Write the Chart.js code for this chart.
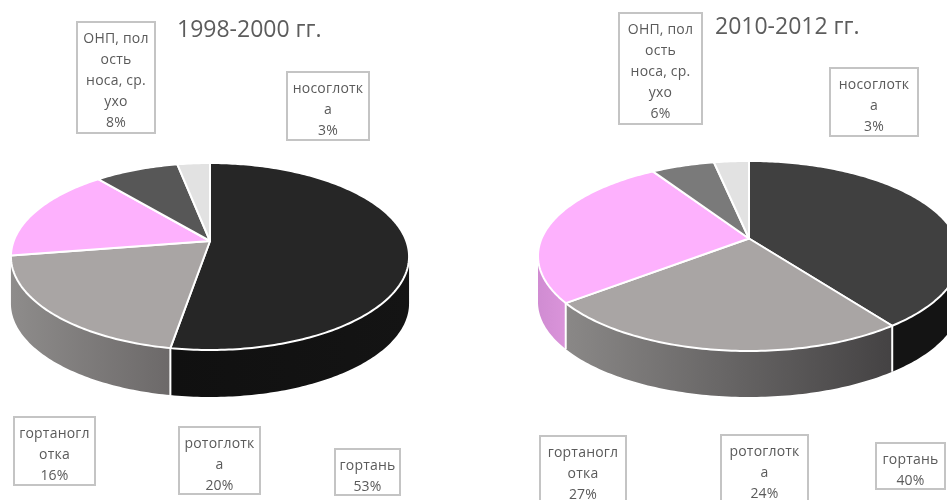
<!DOCTYPE html>
<html>
<head>
<meta charset="utf-8">
<script src="https://cdn.jsdelivr.net/npm/chart.js@4"></script>
<style>
  html, body { margin: 0; padding: 0; background: #fff; }
  body { position: relative; width: 947px; height: 500px; overflow: hidden; font-family: "Open Sans", "Noto Sans", sans-serif; }
  .pie { position: absolute; top: 0; }
  .pie, .box, .title { filter: blur(0.5px); }
  .box { position: absolute; box-sizing: border-box; border: 2px solid #c4c4c4; background: #fff; color: #5a5a5a;
         font-size: 14px; line-height: 21px; text-align: center; padding-top: 4px; letter-spacing: 0.2px; white-space: nowrap; }
  .title { position: absolute; color: #5c5c5c; font-size: 23px; line-height: 30px; white-space: nowrap; }
</style>
</head>
<body>
<div class="pie" style="left:0;width:420px;height:482px"><canvas id="pieOld"></canvas></div>
<div class="pie" style="left:519px;width:460px;height:477px"><canvas id="pieNew"></canvas></div>
<script>
// данные (доли прочитаны по секторам, в подписях округляются)
const categories = ['гортань', 'ротоглотка', 'гортаноглотка', 'ОНП, полость носа, ср. ухо', 'носоглотка'];
const categoryLines = [['гортань'], ['ротоглотк', 'а'], ['гортаногл', 'отка'], ['ОНП, пол', 'ость', 'носа, ср.', 'ухо'], ['носоглотк', 'а']];
const valuesOld = [52.7, 19.8, 16.4, 8, 3.1];
const valuesNew = [40, 24.3, 26.7, 5.8, 3.2];
const titleOld = '1998-2000 гг.';
const titleNew = '2010-2012 гг.';

// цвета: верх и стенка (слева, справа)
const topOld = ['#262626', '#a9a5a4', '#fdb1fd', '#575757', '#e2e2e2'];
const topNew = ['#404040', '#a9a5a4', '#fdb1fd', '#7a7a7a', '#e2e2e2'];
const wallOld = [['#101010', '#141414'], ['#8e8c8b', '#6c6969'], ['#8e8c8b', '#8e8c8b'], ['#333', '#333'], ['#999', '#999']];
const wallNew = [['#141414', '#141414'], ['#8a8887', '#444243'], ['#d08cd2', '#da94da'], ['#444', '#444'], ['#999', '#999']];

// положение подписей: left, top, width, height
const boxesOld = [[334, 448, 67, 48], [178, 426, 83, 69], [13, 416, 83, 70], [76, 21, 80, 113], [286, 71, 84, 70]];
const boxesNew = [[875, 442, 71, 48], [720, 434, 89, 70], [539, 435, 88, 70], [618, 12, 85, 113], [829, 67, 90, 70]];

// псевдо-3D: окружность пирога переводится в перспективу
function projector(arc, p) {
  return function(angle, drop) {
    const u = Math.cos(angle), v = Math.sin(angle);
    const d = 1 - p.k * v;
    return [arc.x + p.b * u / d, arc.y + p.a * v / d + (drop || 0)];
  };
}

function tracePath(ctx, pts) {
  pts.forEach(pt => ctx.lineTo(pt[0], pt[1]));
}

function sweep(project, start, end, drop) {
  const n = Math.max(2, Math.ceil((end - start) * 60));
  const pts = [];
  for (let i = 0; i <= n; i++) pts.push(project(start + (end - start) * i / n, drop));
  return pts;
}

const pie3d = {
  id: 'pie3d',
  beforeDatasetDraw(chart, args, opts) {
    const ctx = chart.ctx;
    const arcs = chart.getDatasetMeta(args.index).data;
    const edge = Math.asin(opts.k);

    // стенки
    arcs.forEach((arc, i) => {
      const project = projector(arc, opts);
      const start = Math.max(arc.startAngle, edge);
      const end = Math.min(arc.endAngle, Math.PI - edge);
      if (end <= start) return;
      const rim = sweep(project, start, end, 0);
      const low = sweep(project, start, end, opts.depth).reverse();
      const xs = rim.map(pt => pt[0]);
      const grad = ctx.createLinearGradient(Math.min(...xs), 0, Math.max(...xs), 0);
      grad.addColorStop(0, opts.walls[i][0]);
      grad.addColorStop(1, opts.walls[i][1]);
      ctx.beginPath();
      tracePath(ctx, rim.concat(low));
      ctx.closePath();
      ctx.fillStyle = grad;
      ctx.fill();
    });

    // белая грань между секторами
    arcs.forEach(arc => {
      if (arc.endAngle < edge || arc.endAngle > Math.PI - edge) return;
      const project = projector(arc, opts);
      const from = project(arc.endAngle, 0), to = project(arc.endAngle, opts.depth);
      ctx.beginPath();
      ctx.moveTo(from[0], from[1]);
      ctx.lineTo(to[0], to[1]);
      ctx.strokeStyle = '#fff';
      ctx.lineWidth = 2;
      ctx.stroke();
    });

    // верхняя грань
    arcs.forEach(arc => {
      const project = projector(arc, opts);
      ctx.beginPath();
      ctx.moveTo(arc.x, arc.y);
      tracePath(ctx, sweep(project, arc.startAngle, arc.endAngle, 0));
      ctx.closePath();
      ctx.fillStyle = arc.options.backgroundColor;
      ctx.fill();
      ctx.strokeStyle = '#fff';
      ctx.lineWidth = 2;
      ctx.lineJoin = 'round';
      ctx.stroke();
    });
    return false;
  }
};

function drawPie(canvasId, values, colors, walls, shape) {
  new Chart(document.getElementById(canvasId), {
    type: 'pie',
    data: {
      labels: categories,
      datasets: [{ data: values, backgroundColor: colors, borderWidth: 0 }]
    },
    options: {
      responsive: true,
      maintainAspectRatio: false,
      animation: false,
      events: [],
      plugins: {
        legend: { display: false },
        tooltip: { enabled: false },
        pie3d: Object.assign({ walls: walls }, shape)
      }
    },
    plugins: [pie3d]
  });
}

function addLabels(values, boxes) {
  values.forEach((value, i) => {
    const box = document.createElement('div');
    box.className = 'box';
    box.style.left = boxes[i][0] + 'px';
    box.style.top = boxes[i][1] + 'px';
    box.style.width = boxes[i][2] + 'px';
    box.style.height = boxes[i][3] + 'px';
    box.innerHTML = categoryLines[i].concat(Math.round(value) + '%').join('<br>');
    document.body.appendChild(box);
  });
}

function addTitle(text, left, top) {
  const el = document.createElement('div');
  el.className = 'title';
  el.style.left = left + 'px';
  el.style.top = top + 'px';
  el.textContent = text;
  document.body.appendChild(el);
}

drawPie('pieOld', valuesOld, topOld, wallOld, { a: 90.9, b: 196.3, k: 0.166, depth: 47 });
drawPie('pieNew', valuesNew, topNew, wallNew, { a: 91.8, b: 207.4, k: 0.184, depth: 46 });
addLabels(valuesOld, boxesOld);
addLabels(valuesNew, boxesNew);
addTitle(titleOld, 177, 13);
addTitle(titleNew, 715, 10);
</script>
</body>
</html>
